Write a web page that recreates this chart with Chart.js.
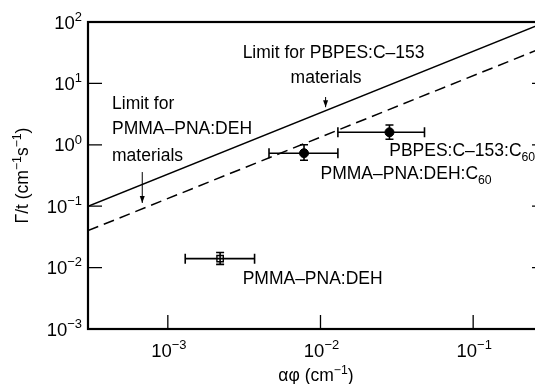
<!DOCTYPE html>
<html>
<head>
<meta charset="utf-8">
<script src="https://cdn.jsdelivr.net/npm/chart.js@4/dist/chart.umd.min.js"></script>
<style>
  html, body { margin: 0; padding: 0; background: #fff; overflow: hidden; }
  canvas { display: block; }
</style>
</head>
<body>
<canvas id="c" width="560" height="384"></canvas>
<script>
// Limit lines (slope 1 on log-log axes), given at the two ends of the αφ range
const limitX = [3e-4, 3e-1];
const limitPBPES = [0.1, 100];
const limitPMMA = [0.04, 40];

// Measured samples with their ranges
const sampleNames = ['PMMA–PNA:DEH', 'PMMA–PNA:DEH:C60', 'PBPES:C–153:C60'];
const sampleX = [2.2e-3, 7.8e-3, 2.83e-2];
const sampleXLow = [1.3e-3, 4.6e-3, 1.3e-2];
const sampleXHigh = [3.7e-3, 1.3e-2, 4.8e-2];
const sampleY = [0.014, 0.73, 1.6];
const sampleYLow = [0.0113, 0.56, 1.23];
const sampleYHigh = [0.0176, 1.0, 2.1];

// Decade ticks (exponents of ten)
const xTickExps = [-3, -2, -1];
const yTickExps = [-3, -2, -1, 0, 1, 2];

// Pointer arrows towards the limit lines
const arrowX = [6.8e-4, 1.08e-2];
const arrowYFrom = [0.36, 6.0];
const arrowYTo = [0.113, 4.1];

const FONT = '"Liberation Sans", Arial, Helvetica, sans-serif';

// Text annotations, anchored in data coordinates (left edge, vertical centre)
const notes = [
  { x: 4.31e-4, y: 4.8,   parts: [['Limit for']] },
  { x: 4.31e-4, y: 1.88,  parts: [['PMMA–PNA:DEH']] },
  { x: 4.31e-4, y: 0.68,  parts: [['materials']] },
  { x: 3.09e-3, y: 32.5,  parts: [['Limit for PBPES:C–153']] },
  { x: 6.37e-3, y: 12.7,  parts: [['materials']] },
  { x: 2.82e-2, y: 0.82,  parts: [['PBPES:C–153:C'], ['60', 'sub']] },
  { x: 1.0e-2,  y: 0.347, parts: [['PMMA–PNA:DEH:C'], ['60', 'sub']] },
  { x: 3.09e-3, y: 0.0068, parts: [['PMMA–PNA:DEH']] }
];

// Draws mixed normal / superscript / subscript text; returns width
function richWidth(ctx, parts, size) {
  let w = 0;
  for (const [t, s] of parts) {
    ctx.font = (s ? size * 0.7 : size) + 'px ' + FONT;
    w += ctx.measureText(t).width;
  }
  return w;
}
function drawRich(ctx, parts, x, baseline, size) {
  let cx = x;
  ctx.textAlign = 'left';
  ctx.textBaseline = 'alphabetic';
  for (const [t, s] of parts) {
    const fs = s ? size * 0.7 : size;
    ctx.font = fs + 'px ' + FONT;
    let by = baseline;
    if (s === 'sup') by = baseline - size * 0.42;
    if (s === 'sub') by = baseline + size * 0.28;
    ctx.fillText(t, cx, by);
    cx += ctx.measureText(t).width;
  }
  return cx - x;
}

function arrow(ctx, x, y1, y2) {
  ctx.beginPath();
  ctx.moveTo(x, y1);
  ctx.lineTo(x, y2);
  ctx.stroke();
  const d = y2 > y1 ? 1 : -1;
  ctx.beginPath();
  ctx.moveTo(x, y2);
  ctx.lineTo(x - 2.5, y2 - d * 7);
  ctx.lineTo(x + 2.5, y2 - d * 7);
  ctx.closePath();
  ctx.fill();
}

const framePlugin = {
  id: 'frame',
  afterDatasetsDraw(chart) {
    const { ctx, chartArea: a, scales: { x, y } } = chart;
    ctx.save();
    ctx.strokeStyle = '#000';
    ctx.fillStyle = '#000';

    // error bars with caps
    ctx.lineWidth = 1.6;
    for (let i = 0; i < sampleX.length; i++) {
      const px = x.getPixelForValue(sampleX[i]);
      const py = y.getPixelForValue(sampleY[i]);
      const xl = x.getPixelForValue(sampleXLow[i]);
      const xh = x.getPixelForValue(sampleXHigh[i]);
      const yl = y.getPixelForValue(sampleYLow[i]);
      const yh = y.getPixelForValue(sampleYHigh[i]);
      ctx.beginPath();
      ctx.moveTo(xl, py); ctx.lineTo(xh, py);
      ctx.moveTo(xl, py - 5); ctx.lineTo(xl, py + 5);
      ctx.moveTo(xh, py - 5); ctx.lineTo(xh, py + 5);
      ctx.moveTo(px, yl); ctx.lineTo(px, yh);
      ctx.moveTo(px - 4, yl); ctx.lineTo(px + 4, yl);
      ctx.moveTo(px - 4, yh); ctx.lineTo(px + 4, yh);
      ctx.stroke();
    }

    // arrows
    ctx.lineWidth = 1;
    for (let i = 0; i < arrowX.length; i++) {
      arrow(ctx, x.getPixelForValue(arrowX[i]),
        y.getPixelForValue(arrowYFrom[i]), y.getPixelForValue(arrowYTo[i]));
    }

    // frame
    ctx.lineWidth = 2.2;
    ctx.strokeRect(a.left, a.top, a.right - a.left, a.bottom - a.top);

    // inward ticks
    ctx.lineWidth = 1.3;
    ctx.beginPath();
    for (const e of yTickExps) {
      const py = y.getPixelForValue(Math.pow(10, e));
      ctx.moveTo(a.left, py); ctx.lineTo(a.left + 14, py);
      ctx.moveTo(a.right, py); ctx.lineTo(a.right - 14, py);
    }
    for (const e of xTickExps) {
      const px = x.getPixelForValue(Math.pow(10, e));
      ctx.moveTo(px, a.bottom); ctx.lineTo(px, a.bottom - 14);
    }
    ctx.stroke();

    // tick labels
    const ts = 18.5;
    for (const e of yTickExps) {
      const py = y.getPixelForValue(Math.pow(10, e));
      const parts = [['10'], [e < 0 ? '−' + (-e) : String(e), 'sup']];
      const w = richWidth(ctx, parts, ts);
      drawRich(ctx, parts, a.left - 6 - w, py + 6.5, ts);
    }
    for (const e of xTickExps) {
      const px = x.getPixelForValue(Math.pow(10, e));
      const parts = [['10'], ['−' + (-e), 'sup']];
      const w = richWidth(ctx, parts, ts);
      drawRich(ctx, parts, px - w / 2 + 1, a.bottom + 28, ts);
    }

    // axis titles
    const fs = 17.5;
    const xt = [['αφ (cm'], ['−1', 'sup'], [')']];
    const xw = richWidth(ctx, xt, fs);
    drawRich(ctx, xt, (a.left + a.right) / 2 - xw / 2 - 1, a.bottom + 52, fs);

    const yt = [['Γ/t (cm'], ['−1', 'sup'], ['s'], ['−1', 'sup'], [')']];
    const yw = richWidth(ctx, yt, fs);
    ctx.save();
    ctx.translate(28, (a.top + a.bottom) / 2);
    ctx.rotate(-Math.PI / 2);
    drawRich(ctx, yt, -yw / 2, 0, fs);
    ctx.restore();

    // annotations
    for (const n of notes) {
      const px = x.getPixelForValue(n.x);
      const py = y.getPixelForValue(n.y);
      drawRich(ctx, n.parts, px, py + fs * 0.36, fs);
    }
    ctx.restore();
  }
};

const pts = (xs, ys) => xs.map((v, i) => ({ x: v, y: ys[i] }));

new Chart(document.getElementById('c'), {
  type: 'scatter',
  data: {
    datasets: [
      {
        label: 'Limit for PBPES:C–153 materials',
        type: 'line',
        data: pts(limitX, limitPBPES),
        borderColor: '#000', borderWidth: 1.5,
        pointRadius: 0, fill: false
      },
      {
        label: 'Limit for PMMA–PNA:DEH materials',
        type: 'line',
        data: pts(limitX, limitPMMA),
        borderColor: '#000', borderWidth: 1.5, borderDash: [11, 6],
        pointRadius: 0, fill: false
      },
      {
        label: sampleNames[0],
        data: [{ x: sampleX[0], y: sampleY[0] }],
        pointStyle: 'rect', pointRadius: 4.5,
        backgroundColor: '#fff', borderColor: '#000', borderWidth: 1.4
      },
      {
        label: sampleNames[1],
        data: [{ x: sampleX[1], y: sampleY[1] }],
        pointStyle: 'circle', pointRadius: 4.5,
        backgroundColor: '#000', borderColor: '#000', borderWidth: 1
      },
      {
        label: sampleNames[2],
        data: [{ x: sampleX[2], y: sampleY[2] }],
        pointStyle: 'circle', pointRadius: 4.5,
        backgroundColor: '#000', borderColor: '#000', borderWidth: 1
      }
    ]
  },
  options: {
    responsive: false,
    animation: false,
    events: [],
    layout: { padding: { left: 88, top: 22, right: 14, bottom: 55 } },
    plugins: { legend: { display: false }, tooltip: { enabled: false } },
    scales: {
      x: { type: 'logarithmic', min: 3e-4, max: 3e-1, display: false },
      y: { type: 'logarithmic', min: 1e-3, max: 1e2, display: false }
    }
  },
  plugins: [framePlugin]
});
</script>
</body>
</html>
